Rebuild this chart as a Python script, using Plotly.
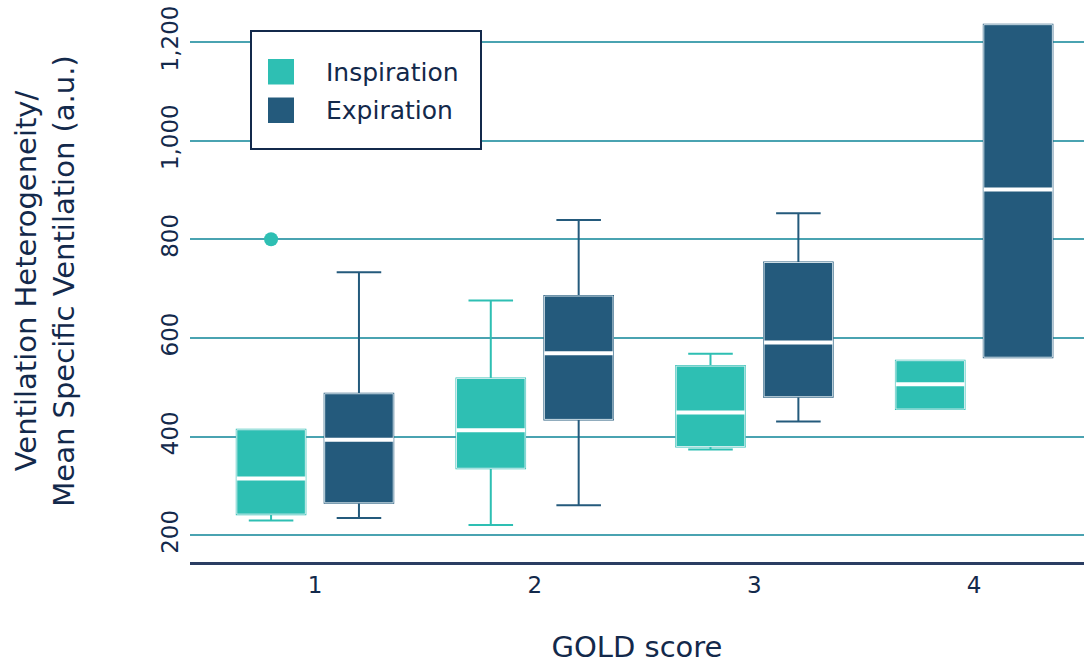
import plotly.graph_objects as go

# GOLD stages on the x axis
gold = ["1", "2", "3", "4"]

# Inspiration box statistics per GOLD stage
insp_lower = [230, 221, 374, 456]
insp_q1 = [243, 336, 380, 456]
insp_median = [315, 413, 449, 506]
insp_q3 = [414, 518, 543, 554]
insp_upper = [414, 676, 568, 554]
insp_outliers = [[800], [], [], []]

# Expiration box statistics per GOLD stage
exp_lower = [235, 261, 431, 561]
exp_q1 = [266, 435, 481, 561]
exp_median = [394, 569, 591, 901]
exp_q3 = [487, 685, 753, 1235]
exp_upper = [733, 839, 853, 1235]

series = [
    dict(name="Inspiration", color="#2ebfb3", lower=insp_lower, q1=insp_q1,
         median=insp_median, q3=insp_q3, upper=insp_upper, pts=insp_outliers),
    dict(name="Expiration", color="#245a7c", lower=exp_lower, q1=exp_q1,
         median=exp_median, q3=exp_q3, upper=exp_upper, pts=None),
]

NAVY = "#13294b"
FONT = "DejaVu Sans"

fig = go.Figure()
for s in series:
    grp = s["name"]
    # whiskers, caps and outliers
    fig.add_trace(go.Box(
        x=gold, q1=s["q1"], median=s["median"], q3=s["q3"],
        lowerfence=s["lower"], upperfence=s["upper"],
        y=s["pts"] if s["pts"] else None,
        boxpoints="outliers" if s["pts"] else False,
        jitter=0, pointpos=0,
        marker=dict(color=s["color"], size=14),
        line=dict(color=s["color"], width=2), fillcolor=s["color"],
        whiskerwidth=0.65, offsetgroup=grp, showlegend=False, hoverinfo="skip",
    ))
    # filled box with a faint light outline
    fig.add_trace(go.Box(
        x=gold, q1=s["q1"], median=s["median"], q3=s["q3"],
        lowerfence=s["q1"], upperfence=s["q3"], boxpoints=False,
        line=dict(color="rgba(235,245,248,0.85)", width=1), fillcolor=s["color"],
        whiskerwidth=0, offsetgroup=grp, showlegend=False,
    ))
    # white median bar
    fig.add_trace(go.Box(
        x=gold, q1=s["median"], median=s["median"], q3=s["median"],
        lowerfence=s["median"], upperfence=s["median"], boxpoints=False,
        line=dict(color="white", width=4), fillcolor="rgba(0,0,0,0)",
        whiskerwidth=0, offsetgroup=grp, showlegend=False, hoverinfo="skip",
    ))

W, H = 1084, 664
ML, MB = 190, 102
PW, PH = W - ML, H - MB


def px(x):
    return (x - ML) / PW


def py(y):
    return 1 - y / PH


# legend frame, swatches and labels
shapes = [dict(type="rect", xref="paper", yref="paper",
               x0=px(251), x1=px(481), y0=py(149), y1=py(31),
               line=dict(color=NAVY, width=2), fillcolor="white", layer="above")]
annotations = []
for i, s in enumerate(series):
    top = 59 + i * 38.5
    shapes.append(dict(type="rect", xref="paper", yref="paper",
                       x0=px(268), x1=px(294), y0=py(top + 25.5), y1=py(top),
                       line=dict(width=0), fillcolor=s["color"], layer="above"))
    annotations.append(dict(xref="paper", yref="paper", x=px(324), y=py(top + 13),
                            xanchor="left", yanchor="middle", showarrow=False,
                            text=s["name"], font=dict(family=FONT, size=25, color=NAVY)))

fig.update_layout(
    width=W, height=H,
    margin=dict(l=ML, r=0, t=0, b=MB),
    paper_bgcolor="white", plot_bgcolor="white",
    boxmode="group", boxgap=0.2, boxgroupgap=0.22,
    showlegend=False,
    shapes=shapes, annotations=annotations,
    font=dict(family=FONT, color=NAVY),
    xaxis=dict(
        type="category", range=[-0.569, 3.5], automargin=False,
        showgrid=False, zeroline=False,
        showline=True, linecolor="#2a3d62", linewidth=3,
        ticks="", tickfont=dict(size=23, color=NAVY),
        title=dict(text="GOLD score", font=dict(size=29, color=NAVY), standoff=56),
    ),
    yaxis=dict(
        range=[146, 1285], tickvals=[200, 400, 600, 800, 1000, 1200],
        tickformat=",", tickangle=-90, ticklabelstandoff=6, automargin=False,
        showgrid=True, gridcolor="#4aa3b1", gridwidth=1.5,
        zeroline=False, showline=False, ticks="",
        tickfont=dict(size=23, color=NAVY),
        title=dict(text="Ventilation Heterogeneity/<br>Mean Specific Ventilation (a.u.)",
                   font=dict(size=29, color=NAVY), standoff=74),
    ),
)

fig.write_html("out.html")
